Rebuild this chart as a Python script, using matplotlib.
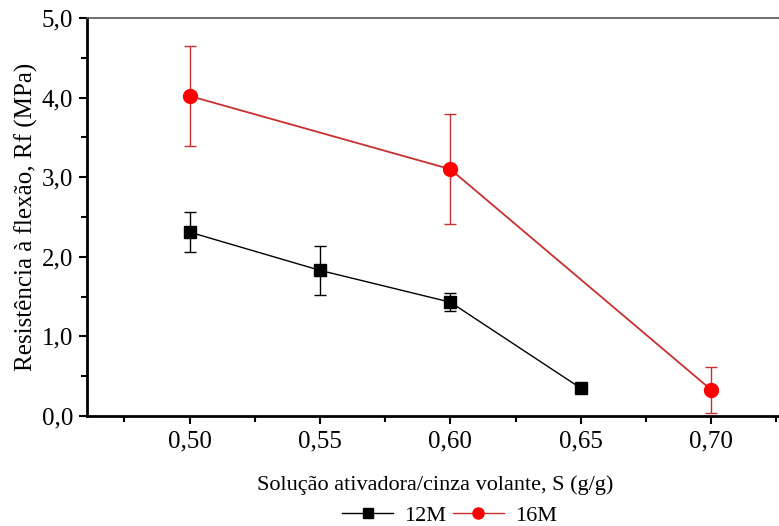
import matplotlib.pyplot as plt
from matplotlib.lines import Line2D
from matplotlib.ticker import MultipleLocator, FuncFormatter

plt.rcParams['font.family'] = ['Liberation Serif', 'DejaVu Serif']

# dados
x_12m = [0.50, 0.55, 0.60, 0.65]
rf_12m = [2.31, 1.83, 1.43, 0.35]
err_12m = [0.25, 0.31, 0.11, 0.03]

x_16m = [0.50, 0.60, 0.70]
rf_16m = [4.02, 3.10, 0.33]
err_16m = [0.63, 0.69, 0.29]

fig = plt.figure(figsize=(7.79, 5.26), dpi=100)
ax = fig.add_axes([0.1117, 0.209, 0.895, 0.757])

ax.errorbar(x_12m, rf_12m, yerr=err_12m, color='black', lw=1.0, marker='s',
            ms=9, mfc='black', mec='black', ecolor='black', elinewidth=1.0,
            capsize=4, capthick=1.0, zorder=3)
ax.errorbar(x_16m, rf_16m, yerr=err_16m, color='#c8302f', lw=1.3, marker='o',
            ms=10, mfc='#ff0000', mec='#ff0000', ecolor='#c8302f', elinewidth=1.0,
            capsize=4, capthick=1.0, zorder=3)

ax.set_xlim(0.4607, 0.728)
ax.set_ylim(0, 5.0)
ax.xaxis.set_major_locator(MultipleLocator(0.05))
ax.xaxis.set_minor_locator(MultipleLocator(0.025))
ax.yaxis.set_major_locator(MultipleLocator(1.0))
ax.yaxis.set_minor_locator(MultipleLocator(0.5))
ax.xaxis.set_major_formatter(FuncFormatter(lambda v, p: f'{v:.2f}'.replace('.', ',')))
ax.yaxis.set_major_formatter(FuncFormatter(lambda v, p: f'{v:.1f}'.replace('.', ',')))

ax.tick_params(which='major', direction='out', length=6, width=1.5, labelsize=18, pad=4)
ax.tick_params(which='minor', direction='out', length=4, width=1.5)
ax.tick_params(axis='x', top=False)
ax.tick_params(axis='y', right=False)

ax.spines['left'].set_linewidth(2.0)
ax.spines['bottom'].set_linewidth(2.0)
ax.spines['top'].set_linewidth(1.2)
ax.spines['top'].set_color('#555555')
ax.spines['right'].set_visible(False)

ax.set_xlabel('Solução ativadora/cinza volante, S (g/g)', fontsize=16, labelpad=17)
ax.set_ylabel('Resistência à flexão, Rf (MPa)', fontsize=18, labelpad=3)

handles = [
    Line2D([], [], color='black', lw=1.0, marker='s', ms=7, mfc='black', mec='black'),
    Line2D([], [], color='#c8302f', lw=1.0, marker='o', ms=8, mfc='#ff0000', mec='#ff0000'),
]
ax.legend(handles, ['12M', '16M'], loc='center', bbox_to_anchor=(0.52, -0.25),
          ncol=2, frameon=False, fontsize=16, handlelength=2.3,
          columnspacing=0.3, handletextpad=0.5, borderpad=0)

fig.savefig('out.png', dpi=100)
